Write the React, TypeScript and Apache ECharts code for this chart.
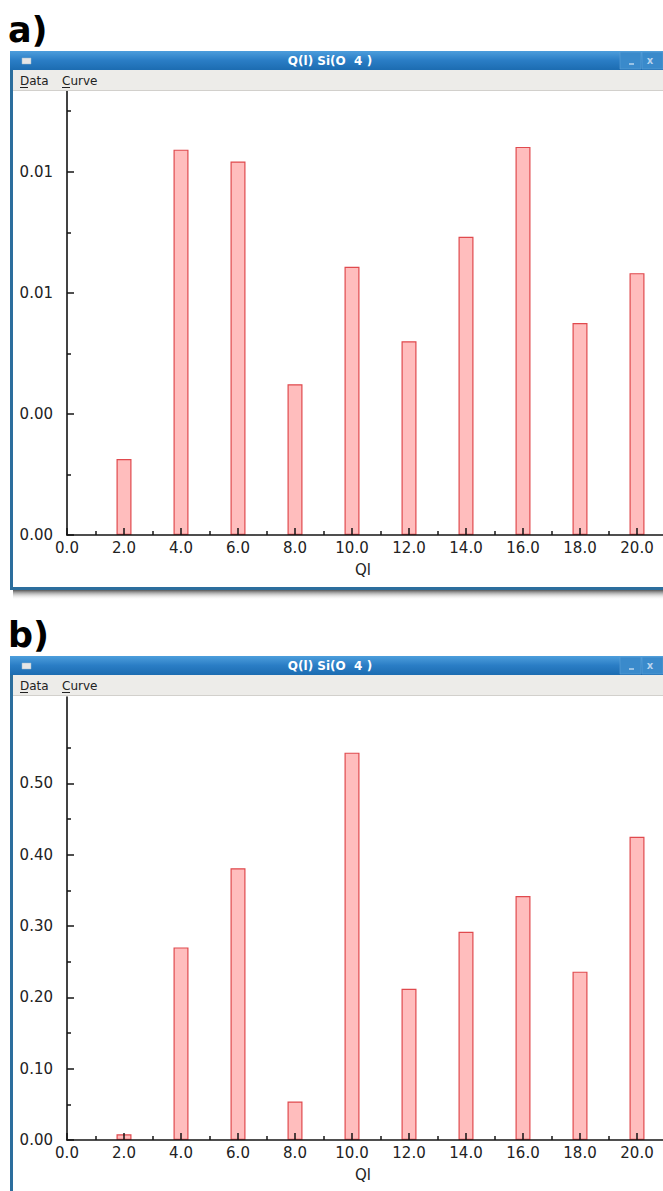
import React, { useEffect, useRef } from "react";
import * as echarts from "echarts";

// ---- data ----
const qlValues = [2, 4, 6, 8, 10, 12, 14, 16, 18, 20];
const fractionA = [0.00251, 0.01273, 0.01234, 0.00498, 0.00886, 0.0064, 0.00985, 0.01282, 0.007, 0.00865];
const fractionB = [0.008, 0.27, 0.381, 0.054, 0.543, 0.212, 0.292, 0.342, 0.236, 0.425];
const yMajorA = [0, 0.004, 0.008, 0.012];
const yMinorA = [0.002, 0.006, 0.01, 0.014];
const yMajorB = [0, 0.1, 0.2, 0.3, 0.4, 0.5];
const yMinorB = [0.05, 0.15, 0.25, 0.35, 0.45, 0.55];
const panelLabels = ["a)", "b)"];
const windowTitle = "Q(l) Si(O  4 )";
const menuItems = ["Data", "Curve"];
const xAxisName = "Ql";

const FONT = "DejaVu Sans";
const AXIS_COLOR = "#141414";

export default function App() {
  const ref = useRef<HTMLDivElement>(null);

  useEffect(() => {
    if (!ref.current) return;
    const chart = echarts.init(ref.current, null, { renderer: "svg" });

    const panels = [
      { values: fractionA, major: yMajorA, minor: yMinorA, yMax: 0.0147, top: 90, height: 445 },
      { values: fractionB, major: yMajorB, minor: yMinorB, yMax: 0.621, top: 697, height: 443 },
    ];

    const grids: any[] = [];
    const xAxes: any[] = [];
    const yAxes: any[] = [];
    const series: any[] = [];

    panels.forEach((p, i) => {
      grids.push({
        left: 67,
        top: p.top,
        width: 627,
        height: p.height,
        containLabel: false,
        outerBoundsMode: "none",
      });
      xAxes.push({
        type: "value",
        gridIndex: i,
        min: 0,
        max: 22,
        interval: 2,
        z: 5,
        axisLine: { show: true, onZero: false, lineStyle: { color: AXIS_COLOR, width: 1.6 } },
        axisTick: { show: true, inside: true, length: 7, lineStyle: { color: AXIS_COLOR, width: 1.5 } },
        minorTick: { show: true, splitNumber: 2, length: 4, lineStyle: { color: AXIS_COLOR, width: 1.5 } },
        splitLine: { show: false },
        axisLabel: {
          formatter: (v: number) => v.toFixed(1),
          showMaxLabel: false,
          fontFamily: FONT,
          fontSize: 15,
          color: "#222",
          margin: 5,
        },
        name: xAxisName,
        nameLocation: "middle",
        nameGap: 27,
        nameTextStyle: { fontFamily: FONT, fontSize: 15, color: "#222", padding: [0, 35, 0, 0] },
      });
      yAxes.push({
        type: "value",
        gridIndex: i,
        position: "left",
        min: 0,
        max: p.yMax,
        z: 5,
        axisLine: { show: true, lineStyle: { color: AXIS_COLOR, width: 1.6 } },
        axisTick: {
          show: true,
          inside: true,
          length: 7,
          customValues: p.major,
          lineStyle: { color: AXIS_COLOR, width: 1.5 },
        },
        axisLabel: {
          customValues: p.major,
          formatter: (v: number) => v.toFixed(2),
          fontFamily: FONT,
          fontSize: 15,
          color: "#222",
          margin: 14,
        },
        splitLine: { show: false },
      });
      yAxes.push({
        type: "value",
        gridIndex: i,
        position: "left",
        offset: 0,
        min: 0,
        max: p.yMax,
        z: 5,
        axisLine: { show: false },
        axisTick: {
          show: true,
          inside: true,
          length: 4,
          customValues: p.minor,
          lineStyle: { color: AXIS_COLOR, width: 1.5 },
        },
        axisLabel: { show: false },
        splitLine: { show: false },
      });
      series.push({
        type: "bar",
        xAxisIndex: i,
        yAxisIndex: i * 2,
        barWidth: 15,
        z: 2,
        itemStyle: { color: "#ffbdbd", borderColor: "#e04a4e", borderWidth: 1.2 },
        data: qlValues.map((q, k) => [q, p.values[k]]),
      });
    });

    // window chrome
    const graphics: any[] = [];
    const border = "#2c6e9d";
    panelLabels.forEach((label, i) => {
      const dy = i * 605;
      graphics.push({
        type: "text",
        z: 100,
        style: { text: label, x: 8, y: 30 + dy, font: `bold 35px ${FONT}`, fill: "#000", verticalAlign: "middle" },
      });
      graphics.push({
        type: "rect",
        z: 100,
        shape: { x: 10, y: 51 + dy, width: 3, height: i === 0 ? 539 : 1191 - 656 },
        style: { fill: border },
      });
      graphics.push({
        type: "rect",
        z: 101,
        shape: { x: 10, y: 51 + dy, width: 653, height: 19 },
        style: {
          fill: new echarts.graphic.LinearGradient(0, 0, 0, 1, [
            { offset: 0, color: "#4d9edc" },
            { offset: 0.5, color: "#2a7dc5" },
            { offset: 1, color: "#1c6cb1" },
          ]),
        },
      });
      graphics.push({
        type: "rect",
        z: 102,
        shape: { x: 620, y: 52 + dy, width: 21, height: 17 },
        style: { fill: "#3a8acb", stroke: "#5fa3d9", lineWidth: 0.6 },
      });
      graphics.push({
        type: "rect",
        z: 102,
        shape: { x: 642, y: 52 + dy, width: 21, height: 17 },
        style: { fill: "#3a8acb", stroke: "#5fa3d9", lineWidth: 0.6 },
      });
      graphics.push({
        type: "line",
        z: 103,
        shape: { x1: 629, y1: 64 + dy, x2: 634, y2: 64 + dy },
        style: { stroke: "#b9d4ee", lineWidth: 1.5 },
      });
      graphics.push({
        type: "text",
        z: 103,
        style: { text: "x", x: 650, y: 60 + dy, font: `bold 10px ${FONT}`, fill: "#b9d4ee", align: "center", verticalAlign: "middle" },
      });
      graphics.push({
        type: "rect",
        z: 102,
        shape: { x: 22, y: 58 + dy, width: 9, height: 6 },
        style: { fill: "#e6e6e6", stroke: "#9fb8cf", lineWidth: 0.5 },
      });
      graphics.push({
        type: "text",
        z: 102,
        style: {
          text: windowTitle,
          x: 330,
          y: 60.5 + dy,
          font: `bold 12px ${FONT}`,
          fill: "#ffffff",
          align: "center",
          verticalAlign: "middle",
        },
      });
      graphics.push({
        type: "rect",
        z: 101,
        shape: { x: 13, y: 70 + dy, width: 650, height: 21 },
        style: { fill: "#edece9" },
      });
      graphics.push({
        type: "line",
        z: 102,
        shape: { x1: 13, y1: 90.5 + dy, x2: 663, y2: 90.5 + dy },
        style: { stroke: "#d2d0cc", lineWidth: 1 },
      });
      const menuX = [20, 62];
      menuItems.forEach((m, k) => {
        graphics.push({
          type: "text",
          z: 102,
          style: { text: m, x: menuX[k], y: 81 + dy, font: `12px ${FONT}`, fill: "#222", verticalAlign: "middle" },
        });
        graphics.push({
          type: "line",
          z: 102,
          shape: { x1: menuX[k], y1: 87.5 + dy, x2: menuX[k] + 8, y2: 87.5 + dy },
          style: { stroke: "#222", lineWidth: 1 },
        });
      });
    });
    // bottom of window a + shadow
    graphics.push({
      type: "rect",
      z: 100,
      shape: { x: 13, y: 590, width: 650, height: 10 },
      style: {
        fill: new echarts.graphic.LinearGradient(0, 0, 0, 1, [
          { offset: 0, color: "rgba(30,30,30,0.75)" },
          { offset: 1, color: "rgba(255,255,255,0)" },
        ]),
      },
    });
    graphics.push({
      type: "rect",
      z: 101,
      shape: { x: 10, y: 587, width: 653, height: 3 },
      style: { fill: border },
    });

    chart.setOption({
      animation: false,
      backgroundColor: "#ffffff",
      grid: grids,
      xAxis: xAxes,
      yAxis: yAxes,
      series,
      graphic: graphics,
    });

    return () => chart.dispose();
  }, []);

  return (
    <div
      ref={ref}
      style={{ position: "absolute", left: 0, top: 0, width: 663, height: 1191, overflow: "hidden" }}
    />
  );
}
